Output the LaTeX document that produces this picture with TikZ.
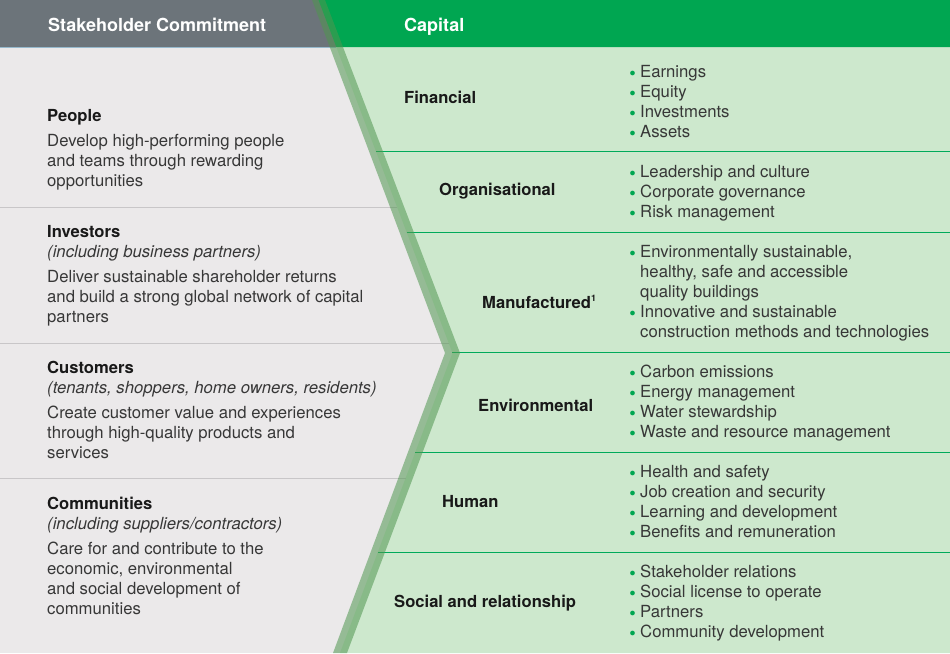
\documentclass[tikz,border=0pt]{standalone}
\usepackage{fontspec}
\setmainfont{TeX Gyre Heros}
\usepackage{tikz}

\definecolor{headgray}{RGB}{108,116,122}
\definecolor{headgreen}{RGB}{0,166,81}
\definecolor{leftbg}{RGB}{235,233,234}
\definecolor{rightbg}{RGB}{205,232,205}
\definecolor{bandgreen}{RGB}{80,150,80}
\definecolor{rulegray}{RGB}{200,198,200}
\definecolor{rulegreen}{RGB}{0,170,90}
\definecolor{txtgray}{RGB}{55,55,55}
\definecolor{txtdark}{RGB}{25,25,25}
\newcommand{\bul}{\llap{\textcolor{headgreen}{\fontsize{12}{12}\selectfont\raisebox{1pt}{$\bullet$}}\hspace{4.5pt}}}

\begin{document}
\begin{tikzpicture}[x=1pt, y=-1pt,
  head/.style = {anchor=base west, inner sep=0pt, text=white, font=\fontsize{18}{20}\selectfont\bfseries},
  title/.style = {anchor=base west, inner sep=0pt, text=txtdark, font=\fontsize{16.6}{20}\selectfont\bfseries},
  note/.style = {anchor=base west, inner sep=0pt, text=txtgray, font=\fontsize{16.7}{20}\selectfont\itshape},
  desc/.style = {anchor=north west, inner sep=0pt, align=left, text=txtgray, font=\fontsize{16.7}{20}\selectfont},
  capname/.style = {anchor=base west, inner sep=0pt, text=txtdark, font=\fontsize{16.6}{20}\selectfont\bfseries},
  items/.style = {anchor=north west, inner sep=0pt, align=left, text=txtgray, font=\fontsize{16.7}{20}\selectfont}]
\useasboundingbox (0,0) rectangle (950,653);
% backgrounds
\fill[leftbg] (0,47) rectangle (950,653);
\fill[rightbg] (336.3,47) -- (452.5,353) -- (340,653) -- (950,653) -- (950,47) -- cycle;
\fill[headgray] (0,0) rectangle (950,47);
\fill[headgreen] (318.5,0) -- (950,0) -- (950,47) -- (336.3,47) -- cycle;
\draw[color={rgb,255:red,150;green,185;blue,205}, line width=1pt] (0,47) -- (336.3,47);
% row rules
\draw[rulegray, line width=0.8pt] (0,207) -- (397,207);
\draw[rulegray, line width=0.8pt] (0,343) -- (448.7,343);
\draw[rulegray, line width=0.8pt] (0,478) -- (405.6,478);
\draw[rulegreen, line width=0.9pt] (375.8,151) -- (950,151);
\draw[rulegreen, line width=0.9pt] (406.6,232) -- (950,232);
\draw[rulegreen, line width=0.9pt] (452.1,352) -- (950,352);
\draw[rulegreen, line width=0.9pt] (415.4,452) -- (950,452);
\draw[rulegreen, line width=0.9pt] (377.9,552) -- (950,552);
% chevron band
\fill[bandgreen, opacity=0.55] (312,0) -- (445,353) -- (333,653) -- (347,653) -- (460,353) -- (325,0) -- cycle;

% header
\node[head] (hstake) at (48,31) {Stakeholder Commitment};
\node[head] (hcap) at (404,31) {Capital};

% stakeholders
\node[title] (people) at (47,121) {People};
\node[desc] (peopled) at (47,134.5) {Develop high-performing people\\and teams through rewarding\\opportunities};
\node[title] (inv) at (47,237) {Investors};
\node[note] (invn) at (47,257) {(including business partners)};
\node[desc] (invd) at (47,270) {Deliver sustainable shareholder returns\\and build a strong global network of capital\\partners};
\node[title] (cust) at (47,373) {Customers};
\node[note] (custn) at (47,393) {(tenants, shoppers, home owners, residents)};
\node[desc] (custd) at (47,406) {Create customer value and experiences\\through high-quality products and\\services};
\node[title] (comm) at (47,509) {Communities};
\node[note] (commn) at (47,529) {(including suppliers/contractors)};
\node[desc] (commd) at (47,542) {Care for and contribute to the\\economic, environmental\\and social development of\\communities};

% capitals
\node[capname] (fin) at (404,103) {Financial};
\node[items] (fini) at (640,65) {\bul Earnings\\\bul Equity\\\bul Investments\\\bul Assets};
\node[capname] (org) at (439,195) {Organisational};
\node[items] (orgi) at (640,165) {\bul Leadership and culture\\\bul Corporate governance\\\bul Risk management};
\node[capname] (man) at (482,308) {Manufactured\textsuperscript{\fontsize{9}{9}\selectfont 1}};
\node[items] (mani) at (640,245) {\bul Environmentally sustainable,\\healthy, safe and accessible\\quality buildings\\\bul Innovative and sustainable\\construction methods and technologies};
\node[capname] (env) at (478,411) {Environmental};
\node[items] (envi) at (640,365) {\bul Carbon emissions\\\bul Energy management\\\bul Water stewardship\\\bul Waste and resource management};
\node[capname] (hum) at (442,507) {Human};
\node[items] (humi) at (640,465) {\bul Health and safety\\\bul Job creation and security\\\bul Learning and development\\\bul Benefits and remuneration};
\node[capname] (soc) at (394,607) {Social and relationship};
\node[items] (soci) at (640,565) {\bul Stakeholder relations\\\bul Social license to operate\\\bul Partners\\\bul Community development};
\end{tikzpicture}
\end{document}
